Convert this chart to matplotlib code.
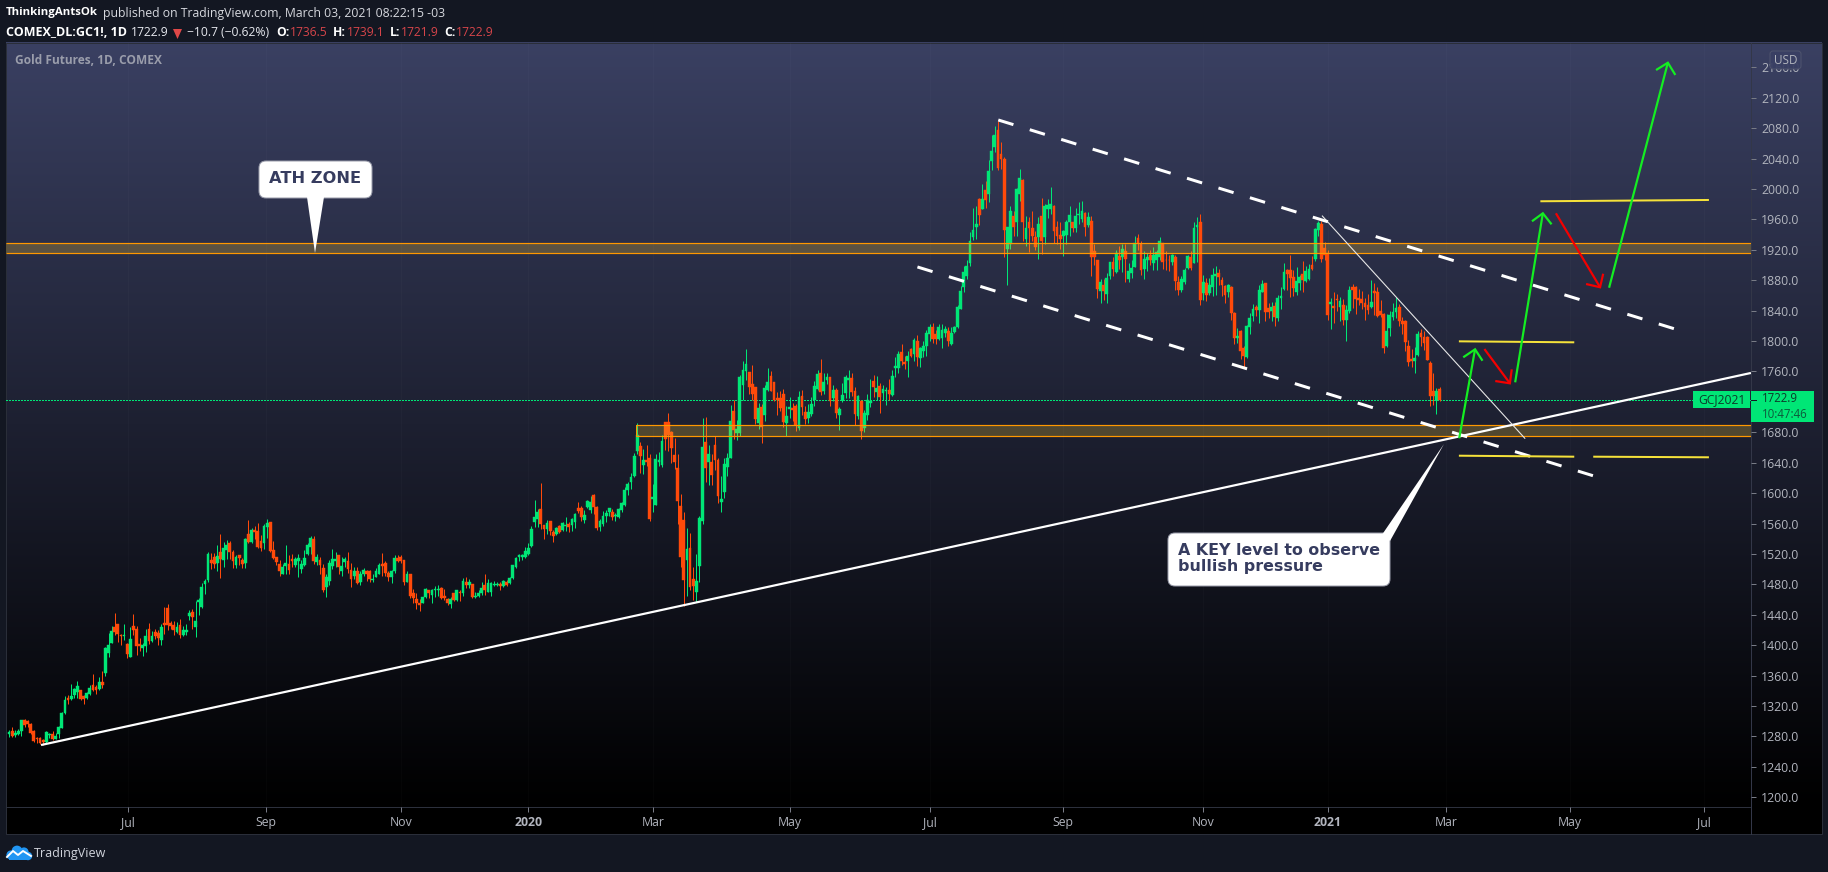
import numpy as np
import matplotlib
matplotlib.use("Agg")
import matplotlib.pyplot as plt
from matplotlib.patches import FancyBboxPatch, Polygon, Rectangle, Circle

plt.rcParams['font.family'] = ['Open Sans', 'DejaVu Sans']
plt.rcParams['lines.scale_dashes'] = False

# ---- daily candles, by stretch of the chart ----
opens_a = [1283,1287,1282,1283,1287,1302,1300,1297,1287,1278,1278,1275,1273,1282,1283,1277,1283,1291,1311,1330,1329,1334,1338,1341,1333,1330,1336,1347,1345,1343,1351,1364,1390,1403,1424,1428,1414,1412,1402,1385,1425,1421,1402,1396,1399,1421,1406,1417,1416,1407,1429,1449,1429,1427,1417,1427,1414,1418,1439,1444,1424,1457,1450,1481,1486,1512,1516,1508,1523,1512,1525,1534,1523,1506,1519,1512]
highs_a = [1288,1292,1289,1290,1302,1303,1302,1298,1289,1279,1279,1276,1287,1285,1287,1284,1294,1312,1333,1334,1349,1344,1353,1341,1334,1339,1347,1362,1348,1358,1366,1398,1416,1425,1442,1428,1415,1428,1403,1424,1441,1425,1410,1403,1421,1429,1419,1421,1420,1428,1450,1454,1432,1432,1431,1435,1425,1428,1446,1448,1458,1462,1482,1487,1523,1521,1521,1532,1546,1536,1538,1537,1525,1519,1519,1515]
lows_a = [1279,1279,1279,1282,1281,1293,1292,1283,1273,1272,1270,1269,1272,1278,1275,1277,1278,1291,1310,1323,1328,1330,1330,1328,1323,1329,1335,1340,1336,1341,1344,1360,1385,1403,1414,1404,1400,1407,1383,1385,1414,1387,1393,1386,1391,1402,1404,1408,1400,1400,1415,1420,1421,1414,1416,1410,1412,1414,1433,1421,1411,1440,1449,1467,1483,1500,1502,1498,1488,1503,1513,1513,1502,1502,1506,1502]
closes_a = [1286,1280,1285,1287,1302,1295,1297,1285,1274,1276,1271,1273,1286,1283,1276,1281,1293,1311,1328,1328,1333,1343,1346,1329,1329,1337,1344,1341,1341,1351,1348,1396,1400,1419,1418,1415,1412,1414,1389,1408,1420,1399,1399,1400,1412,1406,1412,1412,1410,1424,1427,1427,1425,1420,1424,1414,1420,1420,1442,1437,1432,1459,1477,1485,1520,1508,1507,1517,1513,1528,1532,1523,1511,1516,1515,1507]

opens_b = [1508,1546,1536,1552,1550,1537,1535,1556,1562,1525,1516,1507,1493,1504,1507,1514,1506,1511,1500,1506,1520,1529,1540,1510,1512,1502,1477,1485,1504,1511,1519,1498,1510,1511,1499,1491,1498,1483,1494,1497,1497,1486,1490,1494,1507,1508,1495,1490,1498,1515,1516,1512,1483,1493,1469,1461,1456,1456,1464,1473,1466,1472,1472,1475,1465,1461,1454,1469,1460,1470,1468,1483,1479,1481,1464,1465,1468,1479,1470]
highs_b = [1541,1565,1554,1557,1561,1545,1560,1566,1562,1537,1516,1512,1507,1532,1518,1520,1516,1520,1512,1525,1535,1544,1544,1520,1516,1507,1494,1512,1527,1523,1519,1516,1516,1523,1508,1503,1503,1498,1502,1499,1499,1493,1502,1508,1521,1511,1498,1499,1518,1518,1518,1512,1497,1493,1474,1468,1461,1464,1475,1473,1474,1478,1479,1477,1474,1462,1464,1469,1473,1472,1489,1490,1487,1481,1470,1473,1483,1493,1487]
lows_b = [1502,1534,1535,1540,1528,1524,1527,1541,1523,1514,1506,1491,1493,1493,1493,1503,1503,1490,1495,1504,1518,1520,1507,1506,1493,1470,1464,1479,1500,1503,1493,1491,1503,1495,1477,1487,1481,1479,1491,1485,1483,1483,1490,1494,1491,1491,1485,1482,1495,1510,1508,1479,1483,1462,1456,1448,1445,1456,1462,1462,1456,1464,1465,1461,1460,1453,1449,1458,1458,1458,1465,1475,1475,1462,1462,1464,1466,1466,1470]
closes_b = [1539,1536,1552,1549,1529,1528,1557,1561,1524,1515,1510,1498,1503,1508,1499,1511,1514,1515,1507,1515,1532,1541,1511,1516,1506,1472,1490,1508,1514,1514,1503,1504,1514,1500,1487,1498,1482,1494,1499,1493,1487,1487,1497,1506,1504,1495,1490,1497,1515,1511,1511,1483,1494,1465,1462,1456,1453,1464,1474,1468,1473,1474,1474,1462,1462,1456,1461,1460,1473,1469,1485,1479,1483,1464,1465,1469,1475,1473,1482]

opens_c = [1470,1479,1479,1481,1478,1483,1482,1488,1503,1516,1516,1516,1520,1531,1562,1566,1579,1558,1553,1563,1549,1546,1557,1552,1557,1559,1558,1562,1580,1580,1565,1582,1578,1598,1582,1556,1560,1570,1575,1575,1570,1569,1578,1584,1604,1615,1623,1655,1662,1637,1644,1646,1592,1584,1641,1637,1693,1693,1680,1650,1633,1583,1565,1512,1528,1487,1470,1504,1563,1667,1641,1641,1663,1644,1588,1601,1634,1646,1708]
highs_c = [1483,1485,1483,1483,1486,1486,1490,1505,1516,1520,1520,1529,1534,1557,1591,1579,1613,1558,1565,1563,1552,1555,1558,1562,1569,1562,1567,1574,1588,1583,1578,1591,1596,1599,1583,1566,1576,1578,1580,1579,1574,1580,1588,1608,1615,1626,1653,1692,1667,1658,1663,1651,1612,1651,1654,1676,1693,1705,1682,1672,1651,1599,1575,1554,1548,1503,1520,1570,1699,1700,1663,1651,1675,1646,1622,1646,1653,1716,1722]
lows_c = [1465,1478,1478,1473,1477,1478,1481,1487,1502,1511,1512,1515,1519,1529,1556,1556,1553,1540,1546,1545,1536,1545,1548,1550,1550,1549,1550,1554,1574,1563,1561,1580,1574,1572,1552,1550,1557,1562,1570,1565,1563,1567,1575,1583,1597,1605,1621,1651,1626,1625,1636,1563,1575,1584,1636,1634,1657,1655,1640,1632,1559,1503,1452,1465,1473,1460,1457,1483,1559,1615,1611,1611,1630,1587,1575,1594,1622,1646,1671]
closes_c = [1482,1481,1481,1478,1485,1479,1488,1505,1515,1519,1519,1524,1528,1553,1569,1575,1559,1553,1561,1550,1544,1554,1549,1561,1558,1555,1566,1573,1577,1569,1571,1590,1588,1582,1554,1563,1570,1574,1580,1569,1571,1579,1587,1604,1612,1621,1649,1676,1649,1644,1641,1566,1595,1645,1644,1669,1671,1676,1659,1641,1590,1516,1486,1527,1477,1478,1485,1567,1661,1633,1651,1624,1644,1596,1592,1638,1646,1695,1683]

opens_d = [1679,1679,1742,1761,1759,1744,1740,1692,1713,1703,1736,1754,1746,1725,1725,1730,1692,1711,1712,1715,1686,1728,1707,1699,1704,1723,1737,1758,1734,1749,1753,1725,1736,1703,1722,1732,1749,1751,1734,1701,1721,1686,1703,1719,1747,1733,1741,1732,1734,1736,1729,1765,1765,1786,1772,1774,1790,1783,1800,1778,1787,1793]
highs_d = [1696,1755,1774,1790,1759,1768,1740,1719,1717,1742,1765,1761,1746,1733,1734,1737,1715,1726,1719,1717,1734,1736,1715,1717,1726,1747,1762,1776,1758,1758,1753,1742,1738,1713,1745,1755,1762,1758,1740,1729,1722,1709,1730,1750,1755,1754,1745,1742,1740,1750,1762,1779,1787,1796,1780,1787,1791,1804,1808,1792,1800,1815]
lows_d = [1670,1675,1722,1749,1730,1722,1691,1684,1666,1695,1734,1734,1721,1703,1708,1687,1675,1699,1695,1682,1683,1703,1691,1692,1702,1715,1736,1729,1730,1744,1715,1721,1699,1683,1720,1725,1725,1728,1690,1697,1671,1680,1696,1713,1726,1722,1705,1722,1716,1722,1728,1753,1758,1768,1763,1753,1779,1774,1767,1766,1779,1780]
closes_d = [1684,1753,1762,1770,1740,1730,1698,1712,1687,1738,1746,1734,1722,1722,1712,1694,1701,1713,1709,1690,1726,1713,1698,1707,1717,1741,1757,1733,1746,1753,1721,1736,1705,1711,1729,1753,1751,1733,1704,1728,1682,1705,1722,1721,1740,1738,1726,1737,1736,1730,1754,1767,1783,1774,1770,1780,1780,1801,1779,1791,1793,1811]

opens_e = [1809,1818,1809,1803,1804,1811,1813,1796,1812,1818,1842,1871,1885,1902,1937,1950,1987,1974,1999,1994,2037,2055,2078,2046,2040,1921,1927,1965,1957,1994,2012,1934,1957,1949,1937,1937,1965,1937,1974,1974,1978,1950,1940,1938,1940,1956,1956,1949,1966,1961,1969,1952,1958,1919,1906,1866,1874,1862,1886,1904,1891,1912,1911,1919,1882,1890,1898,1936,1928,1895,1906,1913,1903,1906,1911,1929,1907,1907,1904,1911,1878,1867,1877,1896,1911,1903,1950,1957]
highs_e = [1822,1824,1815,1822,1822,1820,1818,1818,1820,1847,1872,1899,1906,1944,1975,1977,1988,2007,2011,2038,2071,2083,2090,2062,2042,1950,1977,1971,2001,2026,2013,1965,1963,1971,1945,1963,1988,1980,1987,2003,1979,1958,1957,1946,1959,1977,1957,1975,1983,1984,1970,1970,1965,1927,1906,1882,1882,1890,1904,1910,1920,1925,1927,1928,1903,1907,1938,1941,1932,1919,1916,1920,1924,1920,1937,1929,1919,1913,1915,1913,1886,1886,1896,1913,1919,1956,1963,1967]
lows_e = [1800,1798,1796,1801,1791,1805,1793,1795,1810,1817,1842,1864,1881,1899,1933,1934,1952,1973,1975,1983,2025,2049,2025,2026,1911,1874,1921,1938,1938,1984,1931,1925,1917,1932,1920,1908,1915,1928,1962,1967,1929,1927,1921,1912,1927,1938,1944,1944,1954,1956,1938,1950,1885,1900,1856,1850,1854,1850,1881,1886,1890,1895,1891,1878,1877,1883,1898,1920,1887,1881,1892,1900,1894,1894,1907,1895,1894,1892,1900,1867,1860,1864,1875,1895,1894,1902,1904,1848]
closes_e = [1818,1803,1803,1818,1815,1816,1800,1810,1818,1845,1866,1891,1899,1932,1946,1954,1966,1987,1986,2023,2050,2071,2028,2040,1946,1950,1971,1950,2000,2015,1957,1948,1948,1938,1923,1954,1932,1977,1979,1980,1945,1938,1934,1945,1956,1966,1948,1965,1967,1971,1950,1963,1911,1911,1869,1878,1866,1883,1904,1895,1916,1907,1921,1908,1892,1896,1929,1929,1894,1908,1910,1906,1913,1917,1931,1904,1906,1906,1913,1879,1867,1881,1894,1912,1896,1948,1953,1854]

opens_f = [1863,1876,1863,1871,1886,1890,1880,1872,1865,1871,1837,1804,1813,1791,1779,1819,1833,1845,1841,1865,1876,1844,1840,1846,1830,1857,1869,1894,1894,1884,1865,1876,1888,1879,1882,1900,1908,1946,1954,1922,1916,1849,1846,1855,1845,1847,1828,1840,1871,1871,1857,1855,1850,1847,1845,1866,1865,1840,1836,1794,1817,1832,1838,1845,1826,1826,1794,1777,1774,1782,1811,1805,1805,1771,1734,1723,1737]
highs_f = [1887,1883,1883,1896,1899,1895,1884,1874,1875,1872,1838,1817,1815,1794,1821,1837,1849,1847,1874,1880,1876,1850,1851,1851,1861,1871,1903,1895,1913,1894,1897,1887,1905,1899,1901,1912,1949,1958,1958,1930,1920,1857,1865,1862,1858,1855,1847,1872,1875,1872,1869,1866,1857,1862,1880,1876,1871,1854,1837,1836,1840,1850,1858,1849,1832,1828,1801,1790,1792,1813,1816,1813,1807,1774,1758,1738,1740]
lows_f = [1854,1853,1861,1859,1861,1874,1859,1850,1858,1828,1796,1798,1777,1766,1778,1809,1826,1833,1824,1865,1826,1830,1826,1820,1826,1842,1867,1867,1858,1859,1861,1867,1865,1878,1880,1894,1905,1938,1904,1907,1828,1816,1824,1840,1826,1821,1800,1837,1844,1836,1847,1842,1828,1836,1844,1834,1832,1832,1784,1792,1807,1828,1830,1820,1809,1787,1767,1766,1758,1780,1794,1788,1775,1715,1716,1704,1721]
closes_f = [1878,1861,1874,1887,1888,1884,1874,1861,1874,1837,1804,1807,1787,1780,1820,1830,1842,1841,1867,1875,1838,1838,1845,1832,1857,1859,1891,1888,1883,1870,1879,1884,1880,1892,1895,1895,1947,1955,1908,1913,1834,1851,1844,1854,1853,1828,1841,1867,1867,1855,1854,1850,1845,1841,1851,1863,1833,1834,1791,1813,1834,1838,1844,1826,1823,1799,1773,1774,1778,1809,1805,1798,1775,1728,1728,1734,1723]

opens = opens_a + opens_b + opens_c + opens_d + opens_e + opens_f
highs = highs_a + highs_b + highs_c + highs_d + highs_e + highs_f
lows = lows_a + lows_b + lows_c + lows_d + lows_e + lows_f
closes = closes_a + closes_b + closes_c + closes_d + closes_e + closes_f
assert len(opens) == len(highs) == len(lows) == len(closes), (len(opens), len(highs), len(lows), len(closes))

price_ticks = list(range(1200, 2161, 40))
time_positions = [38.3, 82.5, 126, 167, 207, 251, 296, 339, 384, 424, 462, 502, 545]
time_labels = ['Jul', 'Sep', 'Nov', '2020', 'Mar', 'May', 'Jul', 'Sep', 'Nov', '2021', 'Mar', 'May', 'Jul']
last_price = 1722.9

# drawings on the chart: (bar number, price)
ath_zone = (1916, 1928.5)
key_zone = (1674.7, 1689.2)
key_zone_start = 201.6
trend_bars, trend_prices = [10.3, 560.1], [1268.7, 1758]
upper_bars, upper_prices = [318.1, 535.4], [2090.7, 1816.2]
lower_bars, lower_prices = [292.1, 509.3], [1897.4, 1622.9]
thin_bars, thin_prices = [422.3, 487.4], [1964.4, 1672.1]
yellow_levels = [([492.4, 546.6], [1983.8, 1985.5]),
                 ([466.2, 503.3], [1799.6, 1798.3]),
                 ([466.2, 503.3], [1649.2, 1647.9]),
                 ([509.4, 546.6], [1647.9, 1647.1])]
# start, tip, head end 1, head end 2
green_arrows = [((466.3, 1672.1), (471.4, 1789.1), (467.6, 1778.6), (473.8, 1774.1)),
                ((484.3, 1745.7), (493.2, 1968.0), (489.7, 1957.5), (496.0, 1953.5)),
                ((514.5, 1870.1), (533.4, 2166.0), (529.6, 2156.4), (535.8, 2149.9))]
red_arrows = [((474.4, 1789.5), (482.6, 1744.4), (477.9, 1747.4), (483.2, 1762.8)),
              ((497.4, 1968.0), (511.6, 1870.7), (507.1, 1875.0), (512.6, 1888.5))]

W, H = 1828, 872
BG = '#131722'
UP, DOWN = '#00e676', '#ff4a0a'
TXT = '#b2b5be'
PX = 72 / 100  # points per pixel at dpi 100

fig = plt.figure(figsize=(W / 100, H / 100), dpi=100, facecolor=BG)

def px_axes(l, t, r, b, **kw):
    return fig.add_axes([l / W, 1 - b / H, (r - l) / W, (b - t) / H], **kw)

# page-level layer in pixel coordinates
page = fig.add_axes([0, 0, 1, 1], zorder=0)
page.set_xlim(0, W); page.set_ylim(H, 0); page.axis('off')
grad_t, grad_b = 43, 807
g = np.linspace(1, 0, 256)[:, None, None] * np.array([58, 64, 98])[None, None, :] / 255
page.imshow(g, extent=[6, 1822, grad_b, grad_t], aspect='auto', interpolation='bilinear', zorder=1)
page.set_xlim(0, W); page.set_ylim(H, 0)
page.add_patch(Rectangle((6, 807), 1816, 27, fc='#000000', ec='none', zorder=1))
page.add_patch(Rectangle((6, 43), 1816, 791, fc='none', ec='#2a2e39', lw=1 * PX, zorder=2))
page.plot([6, 1751], [807, 807], color='#2c303c', lw=1 * PX, zorder=2)
page.plot([1751, 1751], [43, 834], color='#333748', lw=1 * PX, zorder=2)

HDR = 8.75
def hdr(x, y, s, color='#e6e8ee', weight='normal', size=HDR):
    page.text(x, y, s, color=color, fontsize=size, fontweight=weight, va='center', ha='left', zorder=3)
hdr(6, 13, 'ThinkingAntsOk', '#ffffff', 'bold', 8.2)
hdr(103, 13, 'published on TradingView.com, March 03, 2021 08:22:15 -03', '#d6d8de', size=8.85)
hdr(6, 33, 'COMEX_DL:GC1!, 1D', '#ffffff', 'bold', 9.0)
hdr(131, 33, '1722.9', '#e6e8ee')
page.add_patch(Polygon([[173, 29], [182, 29], [177.5, 39]], fc='#e04848', ec='none', zorder=3))
hdr(187, 33, '\u221210.7 (\u22120.62%)', '#e6e8ee')
for x_lab, lab, x_val, val in [(276, 'O:', 290, '1736.5'), (333, 'H:', 347, '1739.1'),
                               (390, 'L:', 401, '1721.9'), (444, 'C:', 456, '1722.9')]:
    hdr(x_lab, 33, lab, '#ffffff', 'bold')
    hdr(x_val, 33, val, '#d6454a')
page.text(15, 60, 'Gold Futures, 1D, COMEX', color='#9a9dab', fontsize=8.6, fontweight='bold', va='center', zorder=3)
page.text(34, 853, 'TradingView', color='#d1d4dc', fontsize=9, va='center', zorder=3)
# logo
blue = '#2196f3'
for cx, cy, r in [(11, 855, 4.6), (17, 851, 5.4), (24, 852, 4.6), (28, 856, 4.2)]:
    page.add_patch(Circle((cx, cy), r, fc=blue, ec='none', zorder=3))
page.add_patch(Rectangle((9, 853), 20, 7, fc=blue, ec='none', zorder=3))
page.plot([7, 13, 18, 23, 31], [857, 851, 855, 851, 856], color='white', lw=1.6 * PX * 1.2, zorder=4)

# chart
ax = px_axes(6, 43, 1751, 807, zorder=1)
ax.patch.set_alpha(0)
BAR = 3.11
ax.set_xlim((6 - 9) / BAR, (1751 - 9) / BAR)
ax.set_ylim(2120 - (807 - 97.7) / 0.7604, 2120 + (97.7 - 43) / 0.7604)
for s in ax.spines.values():
    s.set_visible(False)

xs = np.arange(len(opens))
o, h, l, c = map(np.array, (opens, highs, lows, closes))
col = np.where(c >= o, UP, DOWN)
ax.vlines(xs, l, h, colors=col, linewidth=1 * PX, zorder=3)
ax.bar(xs, np.abs(c - o), bottom=np.minimum(o, c), width=0.9, color=col, linewidth=0.3, edgecolor=col, zorder=3)

ax.yaxis.tick_right()
ax.set_yticks(price_ticks, [f'{p:.1f}' for p in price_ticks])
ax.tick_params(axis='y', length=5 * PX, width=1 * PX, color='#787b86', pad=5 * PX, labelcolor=TXT, labelsize=8.8)
ax.set_xticks(time_positions, time_labels)
ax.tick_params(axis='x', length=5 * PX, width=1 * PX, color='#787b86', pad=4 * PX, labelcolor=TXT, labelsize=8.8)
for t in ax.get_xticklabels():
    if t.get_text().startswith('20'):
        t.set_fontweight('bold')
for xp in time_positions:
    ax.axvline(xp, color='#ffffff', alpha=0.02, lw=1 * PX, zorder=1)

# last-price line
ax.axhline(last_price, color=UP, lw=1 * PX, linestyle=(0, (1.08, 1.08)), antialiased=False, zorder=2)

# zones
xl = ax.get_xlim()
ORANGE = '#ff9800'
for (lo, hi), start in [(ath_zone, xl[0]), (key_zone, key_zone_start)]:
    ax.add_patch(Rectangle((start, lo), xl[1] - start, hi - lo, fc='#eec032', alpha=0.25, ec='none', zorder=4))
    ax.plot([start, xl[1]], [lo, lo], color=ORANGE, lw=1.2 * PX, zorder=4, solid_capstyle='butt')
    ax.plot([start, xl[1]], [hi, hi], color=ORANGE, lw=1.2 * PX, zorder=4, solid_capstyle='butt')
ax.plot([key_zone_start] * 2, list(key_zone), color=ORANGE, lw=1 * PX, zorder=4)

# trend lines and channel
ax.plot(trend_bars, trend_prices, color='#ffffff', lw=2.2 * PX, zorder=5, solid_capstyle='butt')
ax.plot(thin_bars, thin_prices, color='#e8e8e8', lw=1.1 * PX, zorder=5)
for bs, ps in [(upper_bars, upper_prices), (lower_bars, lower_prices)]:
    ax.plot(bs, ps, color='#ffffff', lw=3 * PX, linestyle=(0, (11.4, 12.3)), dash_capstyle='butt', zorder=5)
for bs, ps in yellow_levels:
    ax.plot(bs, ps, color='#f5e23a', lw=2 * PX, zorder=6, solid_capstyle='butt')
for arrows, colour in [(green_arrows, '#14ee22'), (red_arrows, '#f40000')]:
    for s, tip, a, b in arrows:
        ax.plot([s[0], tip[0]], [s[1], tip[1]], color=colour, lw=2.2 * PX, zorder=7, solid_capstyle='butt')
        ax.plot([a[0], tip[0], b[0]], [a[1], tip[1], b[1]], color=colour, lw=2.2 * PX, zorder=7,
                solid_joinstyle='miter', solid_capstyle='butt')

# overlay: labels and callouts in page pixels
top = fig.add_axes([0, 0, 1, 1], zorder=2)
top.set_xlim(0, W); top.set_ylim(H, 0); top.axis('off'); top.patch.set_alpha(0)

def box(x0, y0, x1, y1, r, **kw):
    p = FancyBboxPatch((x0 + r, y0 + r), x1 - x0 - 2 * r, y1 - y0 - 2 * r,
                       boxstyle=f'round,pad={r},rounding_size={r}', **kw)
    top.add_patch(p)
    return p

top.add_patch(Rectangle((1693, 391), 57, 17, fc=UP, ec='none'))
top.text(1721.5, 399.5, 'GCJ2021', color='#0d3b2a', fontsize=8.7, ha='center', va='center')
top.add_patch(Rectangle((1751, 391), 63, 31, fc=UP, ec='none'))
top.plot([1751, 1756], [399.5, 399.5], color='#131722', lw=1 * PX)
top.text(1761.5, 398.5, '1722.9', color='#0d3b2a', fontsize=8.3, va='center')
top.text(1761.5, 414.5, '10:47:46', color='#0d5a3c', fontsize=8.3, va='center')

box(1770, 51, 1801, 69, 3, fc='#3a4064', ec='#50556e', lw=1 * PX, alpha=0.95)
top.text(1785.5, 60, 'USD', color=TXT, fontsize=8.5, ha='center', va='center')

NAVY = '#363c5f'
box(259, 161, 372, 198, 7, fc='white', ec='#9a9dab', lw=1 * PX, zorder=8)
top.add_patch(Polygon([[307, 197], [324, 197], [315, 253]], fc='white', ec='none', zorder=9))
top.text(315.5, 178.5, 'ATH ZONE', color=NAVY, fontsize=11.7, fontweight='bold', ha='center', va='center',
         family='DejaVu Sans', zorder=10)

box(1168, 533, 1390, 586, 7, fc='white', ec='#9a9dab', lw=1 * PX, zorder=8)
top.add_patch(Polygon([[1382.5, 534], [1390, 541], [1444, 444]], fc='white', ec='none', zorder=9))
top.text(1178, 550, 'A KEY level to observe', color=NAVY, fontsize=11.4, fontweight='bold', va='center',
         family='DejaVu Sans', zorder=10)
top.text(1178, 566, 'bullish pressure', color=NAVY, fontsize=11.4, fontweight='bold', va='center',
         family='DejaVu Sans', zorder=10)

fig.savefig('out.png', dpi=100, facecolor=BG)
